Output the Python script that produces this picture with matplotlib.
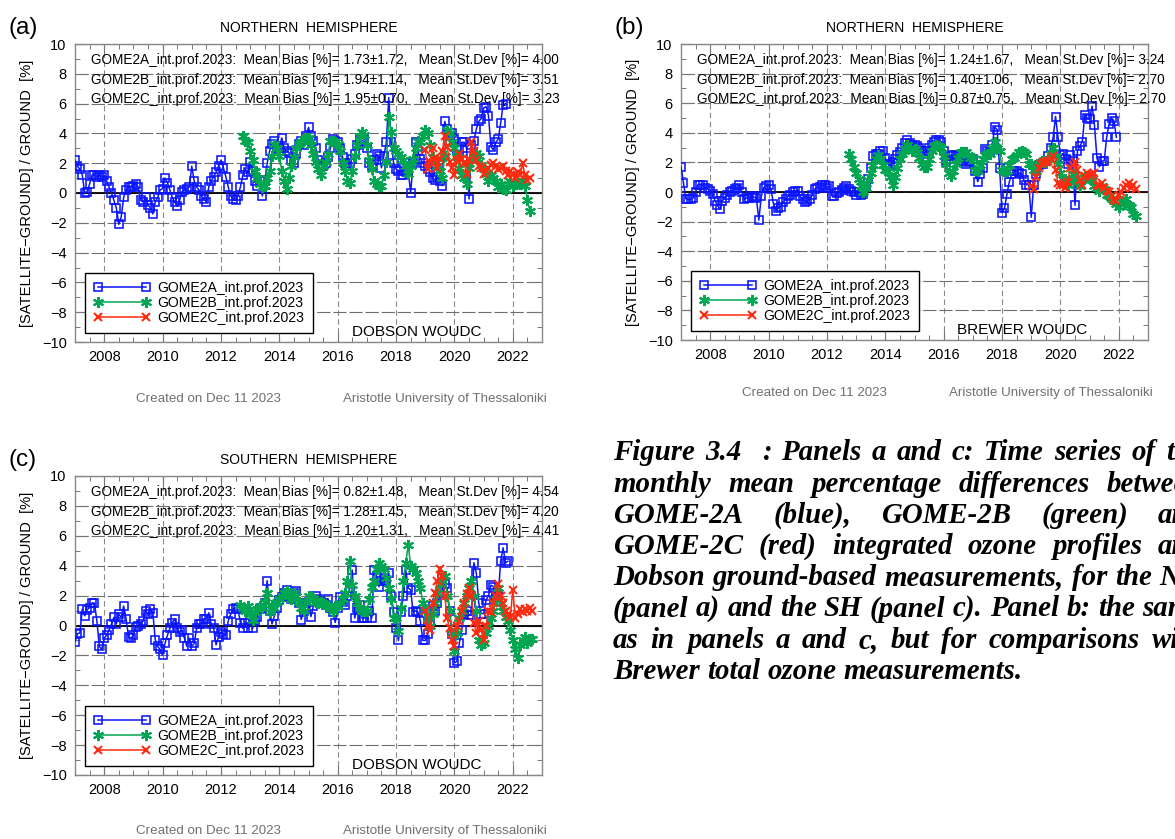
import numpy as np
import matplotlib
matplotlib.use('Agg')
import matplotlib.pyplot as plt
from matplotlib.ticker import MultipleLocator
from matplotlib.font_manager import FontProperties
from matplotlib.lines import Line2D

plt.rcParams['font.family'] = ['Liberation Sans', 'DejaVu Sans']

# ---------------- data (monthly mean % differences) ----------------
series_labels = ["GOME2A_int.prof.2023", "GOME2B_int.prof.2023", "GOME2C_int.prof.2023"]
year_ticks = [2008, 2010, 2012, 2014, 2016, 2018, 2020, 2022]

# Panel (a): Dobson, Northern Hemisphere
a_2a_start = (2007, 1)
a_2a = [2.2, 1.8, 1.6, 1.2, 0.0, 0.1, 0.6, 1.2, 1.2, 1.1, 1.2, 1.1,
        1.2, 0.8, 0.4, 0.0, -0.5, -1.0, -2.1, -1.6, -0.3, 0.2, 0.4, 0.4,
        0.5, 0.6, 0.4, -0.5, -0.6, -0.3, -0.8, -1.0, -1.4, -0.6, -0.3, 0.2,
        0.3, 1.0, 0.7, 0.2, -0.3, -0.6, -0.9, -0.5, 0.1, 0.2, 0.3, 0.4,
        1.8, 0.8, 0.4, 0.2, -0.2, -0.4, -0.6, 0.4, 0.8, 1.1, 1.4, 1.8,
        2.2, 1.7, 1.1, 0.4, -0.2, -0.4, -0.5, -0.2, 0.4, 1.2, 1.6, 1.4,
        2.1, 1.5, 0.8, 0.5, 0.9, -0.2, 0.8, 2.0, 2.8, 3.3, 3.5, 3.0,
        3.0, 3.7, 3.0, 2.8, 2.7, 2.2, 2.0, 2.6, 3.3, 3.5, 3.2, 3.8,
        4.4, 3.8, 3.5, 3.0, 2.2, 1.9, 1.8, 2.0, 2.4, 3.0, 3.6, 3.5,
        3.4, 3.0, 2.4, 2.0, 1.8, 2.0, 2.3, 2.6, 3.2, 3.6, 3.5, 3.6,
        3.0, 2.0, 1.8, 2.2, 2.6, 2.5, 1.7, 2.5, 3.4, 6.4, 3.4, 2.0,
        1.6, 1.5, 1.2, 1.2, 1.4, 1.5, 0.0, 2.0, 3.4, 2.8, 2.3, 2.0,
        1.8, 1.6, 1.4, 1.0, 0.9, 1.1, 0.8, 0.5, 4.8, 4.3, 3.8, 4.0,
        3.6, 2.9, 2.5, 3.4, 3.4, 3.0, -0.4, 3.2, 3.5, 4.3, 4.8, 5.0,
        5.7, 5.8, 5.2, 3.1, 2.9, 3.4, 3.6, 4.7, 5.9, 6.0]
a_2b_start = (2012, 10)
a_2b = [3.8, 3.5, 3.4,
        2.8, 2.2, 1.5, 1.0, 0.6, 0.4, 0.5, 1.0, 1.5, 2.5, 3.3, 3.0,
        2.5, 1.5, 0.8, 0.3, 1.0, 1.8, 2.4, 3.0, 3.3, 3.4, 3.6, 3.7,
        3.7, 3.2, 2.6, 2.1, 1.6, 1.2, 1.8, 2.1, 2.6, 3.5, 3.5, 3.4,
        3.3, 2.8, 2.0, 1.5, 0.8, 0.7, 1.5, 2.5, 3.2, 3.8, 4.1, 3.9,
        3.2, 2.2, 1.6, 0.8, 0.6, 0.5, 0.5, 1.2, 2.1, 5.1, 4.1, 3.0,
        2.8, 2.6, 2.4, 2.2, 1.8, 1.3, 1.8, 2.3, 3.0, 3.5, 3.4, 3.8,
        4.2, 4.0, 3.2, 2.4, 2.0, 1.8, 1.5, 1.0, 2.5, 4.2, 4.0, 3.4,
        3.0, 2.4, 1.7, 1.2, 1.0, 0.6, 1.7, 2.2, 2.6, 2.7, 2.5, 1.9,
        1.6, 1.3, 0.8, 1.2, 1.0, 0.8, 0.4, 0.6, 0.3, 0.2, 0.6, 0.8,
        0.5, 0.6, 0.7, 0.6, 0.8, 0.5, -0.5, -1.2]
a_2c_start = (2019, 1)
a_2c = [2.9, 1.6, 2.1, 3.0, 2.2, 1.7, 2.3, 2.8, 3.8, 3.1, 2.1, 1.7,
        1.2, 2.2, 2.6, 2.3, 2.0, 1.3, 2.2, 3.4, 2.8, 2.2, 1.8, 1.7,
        1.3, 1.5, 1.7, 1.9, 2.0, 1.8, 1.6, 1.7, 1.8, 1.5, 1.2, 1.5,
        1.3, 1.0, 1.4, 1.2, 2.0, 1.2, 0.9, 1.0]

# Panel (b): Brewer, Northern Hemisphere
b_2a_start = (2007, 1)
b_2a = [1.7, 0.6, -0.45, -0.5, -0.5, -0.4, 0.0, 0.5, 0.5, 0.45, 0.3, 0.2,
        0.05, -0.15, -0.6, -0.9, -1.15, -0.6, -0.4, -0.2, 0.0, 0.05, 0.2, 0.3,
        0.5, 0.0, -0.5, -0.4, -0.4, -0.3, -0.35, -0.4, -1.9, -0.3, 0.3, 0.4,
        0.5, 0.2, -0.8, -1.25, -1.1, -1.0, -0.7, -0.5, -0.3, -0.2, 0.0, 0.1,
        0.1, -0.3, -0.5, -0.65, -0.6, -0.5, -0.2, 0.2, 0.3, 0.35, 0.45, 0.45,
        0.3, 0.4, -0.25, -0.3, -0.1, 0.0, 0.15, 0.3, 0.4, 0.2, 0.05, 0.0,
        -0.2, 0.0, -0.2, -0.15, 0.4, 0.9, 1.6, 2.4, 2.6, 2.6, 2.8, 2.8,
        2.3, 1.9, 1.8, 2.0, 2.2, 2.5, 2.7, 3.0, 3.3, 3.5, 3.3, 3.2,
        3.2, 3.1, 3.0, 2.8, 2.6, 2.8, 3.0, 3.2, 3.4, 3.5, 3.5, 3.4,
        2.8, 2.1, 2.2, 2.4, 2.5, 2.5, 2.4, 2.3, 2.1, 1.9, 2.0, 2.1,
        2.2, 1.4, 0.7, 1.2, 1.6, 2.9, 2.8, 2.7, 3.2, 4.4, 4.2, 1.6,
        -1.4, -1.1, -0.15, 0.7, 1.2, 1.4, 1.4, 1.3, 1.2, 0.8, 0.5, 0.5,
        -1.7, 0.5, 1.2, 1.8, 1.9, 1.9, 2.1, 2.4, 3.0, 3.7, 5.1, 3.7,
        2.5, 2.6, 2.2, 1.9, 2.5, 2.1, -0.9, 2.8, 3.1, 3.4, 5.2, 5.0,
        4.9, 5.8, 4.5, 2.3, 1.7, 2.1, 2.1, 3.7, 4.6, 5.0, 4.8, 3.7]
b_2b_start = (2012, 10)
b_2b = [2.6, 2.2, 1.7,
        1.3, 0.9, 0.4, 0.0, 0.3, 0.8, 1.3, 1.8, 2.2, 2.5, 2.2, 1.8,
        1.5, 1.4, 1.0, 0.5, 1.0, 1.6, 2.2, 2.6, 2.9, 3.2, 3.0, 2.8,
        2.9, 2.7, 2.3, 1.9, 1.7, 1.7, 2.2, 2.8, 3.1, 3.2, 3.1, 3.0,
        2.4, 1.9, 1.3, 1.1, 1.4, 1.9, 2.3, 2.7, 2.7, 2.7, 2.5, 2.3,
        2.3, 1.5, 1.4, 1.8, 2.2, 2.5, 2.6, 2.6, 3.0, 3.4, 3.0, 2.8,
        1.5, 1.4, 1.4, 1.8, 2.2, 2.3, 2.5, 2.7, 2.8, 2.7, 2.6, 1.9,
        1.9, 1.5, 1.4, 1.9, 2.0, 2.1, 2.0, 2.2, 2.6, 3.0, 2.4, 1.9,
        1.3, 0.9, 0.9, 0.5, 0.8, 1.2, 1.2, 0.7, 0.4, 0.8, 1.0, 1.1,
        1.0, 0.8, 0.4, 0.3, 0.1, 0.4, 0.2, -0.2, -0.3, -0.5, -0.6, -0.8,
        -1.0, -0.6, -0.8, -0.5, -0.9, -1.0, -1.5, -1.6]
b_2c_start = (2019, 1)
b_2c = [0.4, 0.2, 1.0, 1.6, 1.9, 2.0, 2.0, 2.1, 2.2, 2.4, 1.5, 0.6,
        0.5, 0.5, 0.3, 0.7, 1.6, 1.8, 2.0, 1.5, 0.8, 0.5, 1.1, 1.3,
        1.1, 1.2, 1.3, 0.5, 0.4, 0.6, 0.3, 0.1, 0.0, -0.3, -0.5, -0.6,
        -0.2, 0.0, 0.3, 0.5, 0.6, 0.3, 0.5, 0.2]

# Panel (c): Dobson, Southern Hemisphere
c_2a_start = (2007, 1)
c_2a = [-1.1, -0.55, -0.5, 1.1, 0.65, 1.05, 1.2, 1.5, 1.5, 0.3, -1.4, -1.6,
        -0.85, -0.65, -0.3, 0.1, 0.55, 0.1, 0.75, 0.55, 1.3, 0.45, -0.75, -0.85,
        -0.65, -0.1, 0.0, 0.1, 0.3, 1.0, 0.75, 1.1, 0.85, -0.95, -1.4, -1.6,
        -2.0, -1.2, -0.65, -0.2, 0.2, 0.45, -0.2, -0.45, -0.3, -0.85, -1.4, -0.85,
        -1.4, -1.2, -0.2, 0.1, 0.1, 0.45, 0.45, 0.85, 0.1, -0.2, -1.3, -0.75,
        -0.45, -0.55, -0.65, 0.3, 0.75, 1.1, 1.2, 1.1, 0.2, -0.2, 0.2, -0.2,
        0.45, -0.2, 0.3, 0.6, 1.1, 1.2, 1.5, 3.0, 1.0, 0.1, 0.65, 1.2,
        1.7, 1.9, 2.15, 2.4, 2.0, 1.8, 2.2, 2.3, 1.5, 0.4, 1.0, 1.5,
        1.6, 0.6, 1.3, 2.0, 1.8, 1.6, 1.5, 1.4, 1.8, 1.2, 0.9, 0.2,
        1.2, 1.9, 1.6, 1.4, 2.0, 2.5, 3.7, 0.5, 1.2, 1.4, 0.5, 0.5,
        0.5, 1.0, 0.5, 3.7, 3.3, 2.6, 3.0, 3.2, 3.0, 3.5, 2.0, 0.9,
        -0.2, -1.0, 0.9, 2.0, 3.7, 2.5, 2.4, 0.9, 1.0, 0.9, 0.3, -1.0,
        -1.0, -0.6, 0.3, 1.3, 1.0, 1.5, 2.2, 3.2, 2.8, 2.5, 1.0, -0.6,
        -2.5, -2.4, -1.2, -0.3, 0.8, 1.0, 0.7, 0.7, 4.2, 3.5, 1.5, 0.8,
        0.8, 1.7, 2.0, 2.7, 2.6, 1.9, 2.0, 4.3, 5.2, 4.2, 4.3]
c_2b_start = (2012, 9)
c_2b = [1.4, 1.2, 1.0, 1.3,
        0.8, 0.4, 0.9, 1.1, 1.3, 1.2, 1.6, 2.2, 0.9, 1.4, 1.2, 1.6,
        1.8, 2.0, 2.2, 2.3, 2.0, 1.8, 2.2, 2.0, 1.6, 1.2, 1.0, 1.6,
        2.0, 1.9, 1.8, 1.6, 1.5, 1.6, 1.5, 1.4, 1.3, 1.2, 1.0, 1.3,
        1.3, 1.5, 1.8, 2.2, 3.0, 4.3, 2.7, 2.0, 1.5, 1.2, 1.0, 1.0,
        1.0, 1.8, 2.6, 3.0, 3.8, 4.2, 4.0, 3.8, 3.2, 2.5, 1.8, 0.5,
        0.5, -0.4, 1.2, 3.0, 4.2, 5.4, 4.0, 3.8, 3.5, 3.0, 2.5, 1.5,
        1.0, 0.5, 0.0, 0.8, 1.5, 2.2, 2.8, 3.0, 3.3, 2.0, 1.0, -0.5,
        -1.7, -0.5, 0.5, 1.0, 1.5, 2.0, 2.5, 3.0, 2.0, 1.0, -1.0, -1.3,
        -1.2, -0.5, 0.0, 0.5, 1.0, 1.8, 2.5, 1.5, 1.0, 0.6, 0.3, -0.3,
        -1.0, -1.6, -2.2, -1.3, -1.0, -0.8, -1.2, -0.9, -0.9]
c_2c_start = (2019, 1)
c_2c = [1.0, 0.0, -0.3, 1.5, 2.2, 3.0, 3.8, 3.3, 2.0, 0.5, -0.2, -1.0,
        -1.4, 0.0, 0.3, 1.0, 1.5, 2.1, 2.5, 2.0, 0.2, -0.5, 0.3, -0.3,
        -1.0, 0.0, 1.0, 0.9, 1.5, 2.0, 2.8, 2.0, 1.5, 1.0, 0.8, 0.6,
        2.4, 0.5, 0.8, 1.1, 0.9, 1.1, 1.0, 1.2, 1.0]

a_stats = [("1.73", "1.72", "4.00"), ("1.94", "1.14", "3.51"), ("1.95", "0.70", "3.23")]
b_stats = [("1.24", "1.67", "3.24"), ("1.40", "1.06", "2.70"), ("0.87", "0.75", "2.70")]
c_stats = [("0.82", "1.48", "4.54"), ("1.28", "1.45", "4.20"), ("1.20", "1.31", "4.41")]

caption_lines = [
    "Figure 3.4  : Panels a and c: Time series of the",
    "monthly mean percentage differences between",
    "GOME-2A (blue), GOME-2B (green) and",
    "GOME-2C (red) integrated ozone profiles and",
    "Dobson ground-based measurements, for the NH",
    "(panel a) and the SH (panel c). Panel b: the same",
    "as in panels a and c, but for comparisons with",
    "Brewer total ozone measurements.",
]

# ---------------- figure ----------------
W, H = 1175, 839
fig = plt.figure(figsize=(W / 100, H / 100), dpi=100)
fig.patch.set_facecolor('white')

BLUE = '#0a14ff'
GREEN = '#00a651'
RED = '#ff2a10'
GRID = '#8a8a8a'

STYLE_A = dict(color=BLUE, lw=1.1, marker='s', ms=6.4, mfc='none', mec=BLUE, mew=1.15)
STYLE_B = dict(color=GREEN, lw=1.1, marker=(6, 2, 0), ms=8, mec=GREEN, mew=1.5)
STYLE_C = dict(color=RED, lw=1.1, marker='x', ms=6.3, mec=RED, mew=1.5)


def rect(l, r, t, b):
    return [l / W, 1 - b / H, (r - l) / W, (b - t) / H]


def tx(start, n):
    return start[0] + (start[1] - 1 + np.arange(n)) / 12.0


def panel(box, letter, title, stats, station, s2a, s2b, s2c, footer_y):
    l, r, t, b = box
    ax = fig.add_axes(rect(l, r, t, b))
    ax.set_xlim(2007, 2023)
    ax.set_ylim(-10, 10)
    ax.xaxis.set_minor_locator(MultipleLocator(0.5))
    ax.yaxis.set_major_locator(MultipleLocator(2))
    ax.yaxis.set_minor_locator(MultipleLocator(1))
    ax.set_xticks(year_ticks)
    ax.set_xticklabels([str(y) for y in year_ticks])
    ax.tick_params(which='both', direction='in', top=True, right=True,
                   color='#777777', labelsize=10.5)
    ax.tick_params(which='major', length=7, width=0.8, pad=6)
    ax.tick_params(which='minor', length=3.5, width=0.7)
    ax.xaxis.grid(True, which='major', color=GRID, lw=0.8, ls=(0, (5, 3)))
    ax.yaxis.grid(True, which='major', color='#6f6f6f', lw=0.8, ls=(0, (12, 2.5)))
    ax.set_axisbelow(True)
    for sp in ax.spines.values():
        sp.set_color('#888888')
        sp.set_linewidth(1.0)
    ax.axhline(0, color='black', lw=1.3, zorder=1.5)

    ax.plot(tx(s2a[0], len(s2a[1])), s2a[1], zorder=3, **STYLE_A)
    ax.plot(tx(s2b[0], len(s2b[1])), s2b[1], zorder=4, **STYLE_B)
    ax.plot(tx(s2c[0], len(s2c[1])), s2c[1], zorder=5, **STYLE_C)

    ys = [8.9, 7.6, 6.3]
    for lab, (mb, sd, st), yy in zip(series_labels, stats, ys):
        ax.text(2007.55, yy,
                f"{lab}:  Mean Bias [%]= {mb}\u00b1{sd},   Mean St.Dev [%]= {st}",
                fontsize=9.85, va='center', ha='left', clip_on=False, zorder=6)

    handles = [Line2D([], [], **STYLE_A), Line2D([], [], **STYLE_B), Line2D([], [], **STYLE_C)]
    leg = ax.legend(handles, series_labels, loc='lower left',
                    bbox_to_anchor=(0.022, 0.03), numpoints=2, handlelength=4.0,
                    handletextpad=0.55, labelspacing=0.05, borderpad=0.6,
                    fontsize=10.1, frameon=True, fancybox=False, framealpha=1,
                    edgecolor='black', borderaxespad=0)
    leg.get_frame().set_linewidth(1.0)

    ax.text(2018.7, -9.35, station, ha='center', va='center', fontsize=11)

    cx = (l + r) / 2
    fig.text(cx / W, 1 - (t - 16) / H, title, ha='center', va='center', fontsize=10)
    fig.text((l - 67) / W, 1 - (t - 16) / H, letter, ha='left', va='center', fontsize=17.5)
    fig.text((l - 48) / W, 1 - ((t + b) / 2) / H, "[SATELLITE\u2212GROUND] / GROUND  [%]",
             rotation=90, ha='center', va='center', fontsize=10.6)
    fig.text((l + 134) / W, 1 - footer_y / H, "Created on Dec 11 2023",
             ha='center', va='center', fontsize=9.6, color='#707070')
    fig.text((l + 370) / W, 1 - footer_y / H, "Aristotle University of Thessaloniki",
             ha='center', va='center', fontsize=9.6, color='#707070')
    return ax


panel((75, 542, 44, 342), "(a)", "NORTHERN  HEMISPHERE", a_stats, "DOBSON WOUDC",
      (a_2a_start, a_2a), (a_2b_start, a_2b), (a_2c_start, a_2c), 399)
panel((681, 1148, 44, 340), "(b)", "NORTHERN  HEMISPHERE", b_stats, "BREWER WOUDC",
      (b_2a_start, b_2a), (b_2b_start, b_2b), (b_2c_start, b_2c), 393)
panel((75, 542, 476, 775), "(c)", "SOUTHERN  HEMISPHERE", c_stats, "DOBSON WOUDC",
      (c_2a_start, c_2a), (c_2b_start, c_2b), (c_2c_start, c_2c), 831)

# ---------------- caption (justified, bold italic serif) ----------------
fp = FontProperties(family=['Liberation Serif', 'DejaVu Serif'], style='italic',
                    weight='bold', size=20.8)
renderer = fig.canvas.get_renderer()


def wwidth(s):
    if s == "":
        return 0.0
    t = fig.text(0, 0, s, fontproperties=fp)
    w = t.get_window_extent(renderer).width
    t.remove()
    return w


X0, R = 613, 1203
y0, dy = 453, 31.2
space_w = wwidth("a b") - wwidth("ab")
for i, line in enumerate(caption_lines):
    words = line.split(' ')
    widths = [wwidth(w) for w in words]
    if i < len(caption_lines) - 1:
        gap = max(space_w * 0.7, (R - X0 - sum(widths)) / (len(words) - 1))
    else:
        gap = space_w
    x = X0
    yy = y0 + i * dy
    for w, ww in zip(words, widths):
        if w:
            fig.text(x / W, 1 - yy / H, w, fontproperties=fp, ha='left', va='center')
        x += ww + gap

fig.savefig('out.png', dpi=100, facecolor='white')
